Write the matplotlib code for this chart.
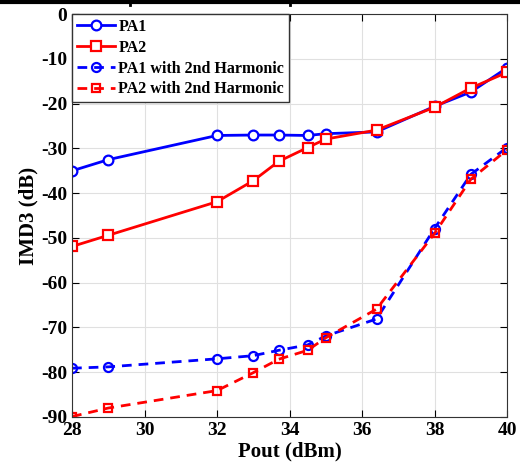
import numpy as np
import matplotlib.pyplot as plt
from matplotlib.lines import Line2D

plt.rcParams['font.family'] = ['Liberation Serif', 'DejaVu Serif']
plt.rcParams['font.weight'] = 'bold'
plt.rcParams['axes.unicode_minus'] = False

pout = [28, 29, 32, 33, 33.7, 34.5, 35, 36.4, 38, 39, 40]
pa1 = [-35.0, -32.5, -27.1, -27.0, -27.0, -27.1, -26.7, -26.3, -20.6, -17.4, -12.0]
pa2 = [-51.9, -49.4, -41.9, -37.2, -32.9, -29.8, -27.9, -25.9, -20.8, -16.5, -13.0]
pa1_h2 = [-79.1, -78.8, -77.0, -76.3, -75.1, -73.9, -71.9, -68.1, -47.9, -35.8, -29.8]
pa2_h2 = [-89.9, -88.0, -84.1, -80.1, -77.1, -75.1, -72.3, -65.9, -49.0, -36.9, -30.3]

fig = plt.figure(figsize=(5.2, 4.73), dpi=100)
ax = fig.add_axes([0.1385, 0.1184, 0.8365, 0.8516])

dash = (0, (3.5, 2.5))
ax.plot(pout, pa1, '-o', color='#0000ff', lw=2, ms=7, mfc='white', mew=1.6, label='PA1')
ax.plot(pout, pa2, '-s', color='#ff0000', lw=2, ms=7, mfc='white', mew=1.6, label='PA2')
ax.plot(pout, pa1_h2, marker='o', ls=dash, color='#0000ff', lw=2, ms=6.5, mfc='none', mew=1.6,
        label='PA1 with 2nd Harmonic')
ax.plot(pout, pa2_h2, marker='s', ls=dash, color='#ff0000', lw=2, ms=6, mfc='none', mew=1.6,
        label='PA2 with 2nd Harmonic')

ax.set_xlim(28, 40)
ax.set_ylim(-90, 0)
ax.set_xticks(np.arange(28, 41, 2))
ax.set_yticks(np.arange(-90, 1, 10))
ax.grid(True, color='#e0e0e0', lw=0.8)
ax.tick_params(direction='in', top=True, right=True, labelsize=14, length=5)
for s in ax.spines.values():
    s.set_color('#333333')
ax.set_xlabel('Pout (dBm)', fontsize=15, fontweight='bold', labelpad=2)
ax.set_ylabel('IMD3 (dB)', fontsize=15, fontweight='bold', labelpad=2)

leg = ax.legend(loc='upper left', fontsize=11.5, handlelength=2.4, borderaxespad=0.0,
                fancybox=False, framealpha=1, edgecolor='#333333', borderpad=0.3,
                labelspacing=0.3, handletextpad=0.2)
leg.get_frame().set_linewidth(1.0)

# table edge clipped at top of the image
fig.add_artist(Line2D([0, 1], [0.996, 0.996], color='black', lw=3, transform=fig.transFigure))
for xv in [0.25, 0.558]:
    fig.add_artist(Line2D([xv, xv], [0.99, 1.0], color='black', lw=2, transform=fig.transFigure))

fig.savefig('out.png', dpi=100)
